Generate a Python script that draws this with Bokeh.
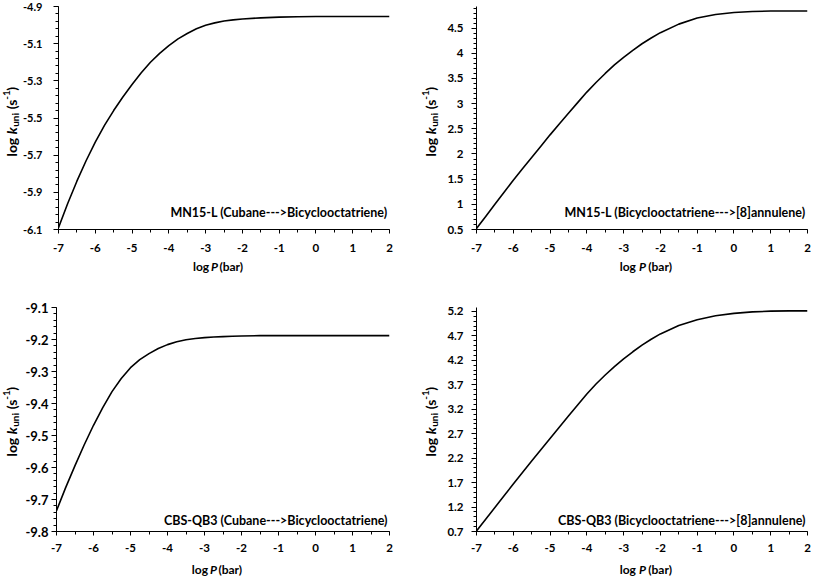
import numpy as np
from bokeh.plotting import figure
from bokeh.models import Range1d, FixedTicker, Label
from bokeh.layouts import row, column
from bokeh.embed import file_html
from bokeh.resources import INLINE

FONT = "Lato"

# ---------------- data ----------------
LOG_P = [-7, -6.75, -6.5, -6.25, -6, -5.75, -5.5, -5.25, -5, -4.75, -4.5, -4.25, -4,
         -3.75, -3.5, -3.25, -3, -2.75, -2.5, -2.25, -2, -1.5, -1, -0.5, 0, 0.5, 1, 1.5, 2]

MN15L_CUBANE = [-6.090, -5.960, -5.840, -5.730, -5.630, -5.540, -5.460, -5.387, -5.320,
                -5.257, -5.200, -5.152, -5.110, -5.074, -5.045, -5.020, -5.001, -4.988,
                -4.978, -4.972, -4.967, -4.961, -4.957, -4.955, -4.954, -4.954, -4.954,
                -4.954, -4.954]
MN15L_BCO = [0.52, 0.76, 1.00, 1.24, 1.48, 1.705, 1.93, 2.155, 2.38, 2.595, 2.81, 3.02, 3.23,
             3.42, 3.60, 3.77, 3.92, 4.06, 4.19, 4.305, 4.41, 4.58, 4.70, 4.77, 4.81, 4.83,
             4.84, 4.84, 4.84]
CBS_CUBANE = [-9.735, -9.662, -9.594, -9.529, -9.468, -9.413, -9.363, -9.322, -9.288,
              -9.263, -9.244, -9.228, -9.216, -9.207, -9.201, -9.197, -9.194, -9.192,
              -9.191, -9.190, -9.189, -9.188, -9.188, -9.188, -9.188, -9.188, -9.188,
              -9.188, -9.188]
CBS_BCO = [0.71, 0.95, 1.19, 1.43, 1.67, 1.905, 2.14, 2.37, 2.60, 2.83, 3.06, 3.285, 3.51,
           3.715, 3.90, 4.07, 4.23, 4.375, 4.51, 4.63, 4.74, 4.91, 5.03, 5.11, 5.16, 5.19,
           5.205, 5.21, 5.21]

X_TICKS = [-7, -6, -5, -4, -3, -2, -1, 0, 1, 2]
X_TICK_LABELS = ["-7", "-6", "-5", "-4", "-3", "-2", "-1", "0", "1", "2"]

TL_Y_TICKS = [-6.1, -5.9, -5.7, -5.5, -5.3, -5.1, -4.9]
TL_Y_LABELS = ["-6.1", "-5.9", "-5.7", "-5.5", "-5.3", "-5.1", "-4.9"]
TR_Y_TICKS = [0.5, 1, 1.5, 2, 2.5, 3, 3.5, 4, 4.5]
TR_Y_LABELS = ["0.5", "1", "1.5", "2", "2.5", "3", "3.5", "4", "4.5"]
BL_Y_TICKS = [-9.8, -9.7, -9.6, -9.5, -9.4, -9.3, -9.2, -9.1]
BL_Y_LABELS = ["-9.8", "-9.7", "-9.6", "-9.5", "-9.4", "-9.3", "-9.2", "-9.1"]
BR_Y_TICKS = [0.7, 1.2, 1.7, 2.2, 2.7, 3.2, 3.7, 4.2, 4.7, 5.2]
BR_Y_LABELS = ["0.7", "1.2", "1.7", "2.2", "2.7", "3.2", "3.7", "4.2", "4.7", "5.2"]

NOTES = ["MN15-L (Cubane--->Bicyclooctatriene)",
         "MN15-L (Bicyclooctatriene--->[8]annulene)",
         "CBS-QB3 (Cubane--->Bicyclooctatriene)",
         "CBS-QB3 (Bicyclooctatriene--->[8]annulene)"]


def minor_ticks(lo, hi, step):
    n = int(round((hi - lo) / step))
    return [round(lo + i * step, 4) for i in range(n + 1)]


def label(x, y, text, size, style, **kw):
    return Label(x=x, y=y, x_units="data", y_units="data", text=text,
                 text_font=FONT, text_font_size=f"{size}px", text_font_style=style,
                 text_color="black", **kw)


def strip(width, height):
    s = figure(width=width, height=height, output_backend="svg", toolbar_location=None,
               x_range=Range1d(0, width), y_range=Range1d(0, height),
               x_axis_type=None, y_axis_type=None,
               min_border_left=0, min_border_right=0, min_border_top=0, min_border_bottom=0)
    s.outline_line_color = None
    s.background_fill_color = "white"
    s.border_fill_color = "white"
    return s


def ylabel_strip(width, height, base_x, center_y):
    """log k_uni (s^-1), rotated; pieces (text, size, style, dx, advance)."""
    s = strip(width, height)
    fs, sub = 14.0, 10.0
    pieces = [("log", fs, "bold", 0, 18.9 + 3.5),
              ("k", fs, "bold italic", 0, 7.4),
              ("uni", sub, "bold", 3.5, 14.0 + 3.5),
              ("(s", fs, "bold", 0, 9.6),
              ("-1", sub, "bold", -5, 9.0),
              (")", fs, "bold", 0, 4.3)]
    total = sum(pc[4] for pc in pieces)
    y = center_y - total / 2.0
    for txt, size, style, dx, adv in pieces:
        s.add_layout(label(base_x + dx, y, txt, size, style, angle=np.pi / 2,
                           text_align="left", text_baseline="alphabetic"))
        y += adv
    return s


def xlabel_strip(width, height, center_x, base_y):
    """log P (bar)"""
    s = strip(width, height)
    fs = 12.0
    pieces = [("log", "bold", 16.2 + 5.5),
              ("P", "bold italic", 7.2 + 3.0),
              ("(bar)", "bold", 25.0)]
    total = sum(pc[2] for pc in pieces)
    x = center_x - total / 2.0
    for txt, style, adv in pieces:
        s.add_layout(label(x, base_y, txt, fs, style,
                           text_align="left", text_baseline="alphabetic"))
        x += adv
    return s


def make_panel(ys, ylo, yhi, yticks, ylabels, yminor_step, note, *,
               width, height, bl, br, bt, bb, ytick_size, ystandoff, xstandoff, note_dy):
    p = figure(width=width, height=height, output_backend="svg", toolbar_location=None,
               x_range=Range1d(-7, 2), y_range=Range1d(ylo, yhi),
               min_border_left=bl, min_border_right=br, min_border_top=bt, min_border_bottom=bb)
    p.outline_line_color = None
    p.xgrid.visible = False
    p.ygrid.visible = False
    p.background_fill_color = "white"
    p.border_fill_color = "white"

    p.line(LOG_P, ys, line_color="black", line_width=1.6, line_join="round")

    xa = p.xaxis[0]
    xa.ticker = FixedTicker(ticks=X_TICKS, minor_ticks=minor_ticks(-7, 2, 0.5))
    xa.major_label_overrides = {t: l for t, l in zip(X_TICKS, X_TICK_LABELS)}
    xa.axis_line_color = "black"
    xa.major_tick_line_color = "black"
    xa.minor_tick_line_color = "black"
    xa.major_tick_out = 4
    xa.major_tick_in = 0
    xa.minor_tick_out = 3
    xa.minor_tick_in = 0
    xa.major_label_text_font = FONT
    xa.major_label_text_font_style = "bold"
    xa.major_label_text_font_size = "11.5px"
    xa.major_label_text_color = "black"
    xa.major_label_standoff = xstandoff

    ya = p.yaxis[0]
    ya.ticker = FixedTicker(ticks=yticks, minor_ticks=minor_ticks(ylo, yhi, yminor_step))
    ya.major_label_overrides = {t: l for t, l in zip(yticks, ylabels)}
    ya.axis_line_color = "black"
    ya.major_tick_line_color = "black"
    ya.minor_tick_line_color = "black"
    ya.major_tick_out = 5
    ya.major_tick_in = 0
    ya.minor_tick_out = 3
    ya.minor_tick_in = 0
    ya.major_label_text_font = FONT
    ya.major_label_text_font_style = "bold"
    ya.major_label_text_font_size = ytick_size
    ya.major_label_text_color = "black"
    ya.major_label_standoff = ystandoff

    p.add_layout(Label(x=2, y=ylo, x_units="data", y_units="data", x_offset=-2, y_offset=note_dy,
                       text=note, text_align="right", text_baseline="alphabetic",
                       text_font=FONT, text_font_size="12.5px", text_font_style="bold",
                       text_color="black"))
    return p


# left column: 20 px label strip + 400 px chart ; right column: 20 px strip + 371 px chart
p1 = make_panel(MN15L_CUBANE, -6.1, -4.9, TL_Y_TICKS, TL_Y_LABELS, 0.04, NOTES[0],
                width=400, height=258, bl=36, br=31, bt=6, bb=29,
                ytick_size="11px", ystandoff=11, xstandoff=10, note_dy=17)
p2 = make_panel(MN15L_BCO, 0.5, 4.93, TR_Y_TICKS, TR_Y_LABELS, 0.1, NOTES[1],
                width=371, height=258, bl=36, br=4, bt=6, bb=29,
                ytick_size="11.5px", ystandoff=8, xstandoff=10, note_dy=17)
p3 = make_panel(CBS_CUBANE, -9.8, -9.1, BL_Y_TICKS, BL_Y_LABELS, 0.02, NOTES[2],
                width=400, height=258, bl=36, br=31, bt=7, bb=27,
                ytick_size="13px", ystandoff=3, xstandoff=8, note_dy=11)
p4 = make_panel(CBS_BCO, 0.7, 5.28, BR_Y_TICKS, BR_Y_LABELS, 0.1, NOTES[3],
                width=371, height=258, bl=36, br=4, bt=7, bb=27,
                ytick_size="11.5px", ystandoff=8, xstandoff=8, note_dy=11)

top = row(ylabel_strip(20, 300, 10.5, 179), column(p1, xlabel_strip(400, 42, 191, 34)),
          ylabel_strip(20, 300, 10, 179), column(p2, xlabel_strip(371, 42, 189, 34)))
bottom = row(ylabel_strip(20, 278, 10.5, 157), column(p3, xlabel_strip(400, 20, 191, 9)),
             ylabel_strip(20, 278, 10, 157), column(p4, xlabel_strip(371, 20, 189, 9)))
layout = column(top, bottom)
open("out.html", "w").write(file_html(layout, INLINE))
